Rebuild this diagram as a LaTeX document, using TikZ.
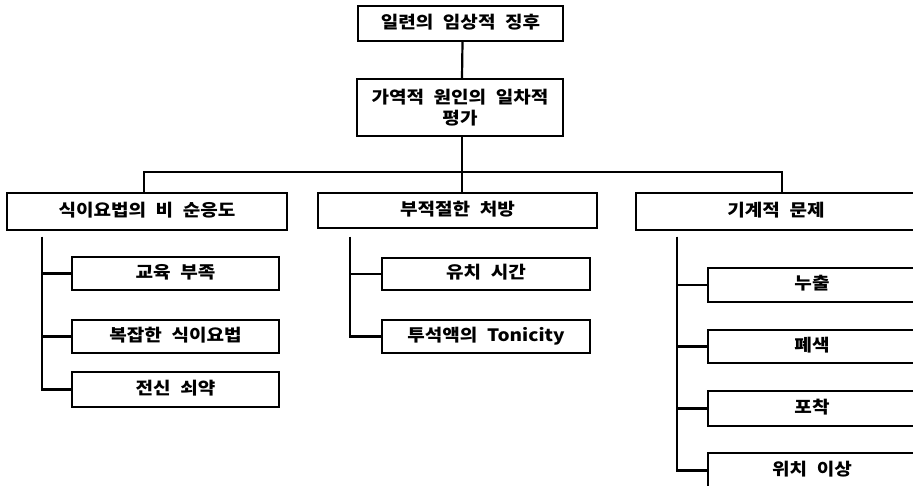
\documentclass[tikz,border=0pt]{standalone}
\usepackage{fontspec}
\setmainfont{Noto Sans CJK KR}[WordSpace=2.2,FakeStretch=1.12]
\begin{document}
\begin{tikzpicture}[x=1pt,y=-1pt,
  every node/.style={font=\fontsize{17}{21}\selectfont\bfseries},
  boxbase/.style={draw=black,line width=2.4pt,fill=white,inner sep=0pt,align=center},
  boxa/.style={boxbase,text height=12.5pt,text depth=3pt},
  conn/.style={line width=2.2pt,draw=black}]
\useasboundingbox (0,0) rectangle (913,486);
\clip (0,0) rectangle (913,486);
\fill[white] (0,0) rectangle (913,486);
% top
\node[boxa,minimum width=205pt,minimum height=35pt] (t1) at (460.5,23.5) {일련의 임상적 징후};
\node[boxbase,minimum width=206pt,minimum height=57pt] (t2) at (460,107.5) {가역적 원인의 일차적\\평가};
% level 1
\node[boxa,minimum width=280pt,minimum height=37pt] (l1) at (147,211.5) {식이요법의 비 순응도};
\node[boxa,minimum width=279pt,minimum height=35pt] (m1) at (457.5,210.5) {부적절한 처방};
\node[boxa,minimum width=280pt,minimum height=37pt] (r1) at (776,211.5) {기계적 문제};
% left subs
\node[boxa,minimum width=207pt,minimum height=33pt] (la) at (175.5,273.5) {교육 부족};
\node[boxa,minimum width=207pt,minimum height=33pt] (lb) at (175.5,336.5) {복잡한 식이요법};
\node[boxa,minimum width=207pt,minimum height=35pt] (lc) at (175.5,389.5) {전신 쇠약};
% mid subs
\node[boxa,minimum width=208pt,minimum height=32pt] (ma) at (486,274) {유치 시간};
\node[boxa,minimum width=208pt,minimum height=33pt] (mb) at (486,336.5) {투석액의 Tonicity};
% right subs
\node[boxa,minimum width=208pt,minimum height=34pt] (ra) at (812,285) {누출};
\node[boxa,minimum width=208pt,minimum height=33pt] (rb) at (812,346.5) {폐색};
\node[boxa,minimum width=208pt,minimum height=35pt] (rc) at (812,408.5) {포착};
\node[boxa,minimum width=208pt,minimum height=35pt] (rd) at (812,470.5) {위치 이상};
% connectors
\coordinate (bar) at (462,172);
\coordinate (lsp) at (42,237);
\coordinate (msp) at (350,237);
\coordinate (rsp) at (677,237);
\draw[conn] ([xshift=2pt]t1.south) -- ([xshift=2pt]t2.north);
\draw[conn] (t2.south -| bar) -- (bar);
\draw[conn] ([xshift=-3pt]l1.north) |- (bar) -| ([xshift=6pt]r1.north);
\draw[conn] ([xshift=4.5pt]m1.north) -- (bar);
\draw[conn] (lsp) |- (la.west);
\draw[conn] (lsp) |- (lb.west);
\draw[conn] (lsp) |- (lc.west);
\draw[conn] (msp) |- (ma.west);
\draw[conn] (msp) |- (mb.west);
\draw[conn] (rsp) |- (ra.west);
\draw[conn] (rsp) |- (rb.west);
\draw[conn] (rsp) |- (rc.west);
\draw[conn] (rsp) |- (rd.west);
\end{tikzpicture}
\end{document}
